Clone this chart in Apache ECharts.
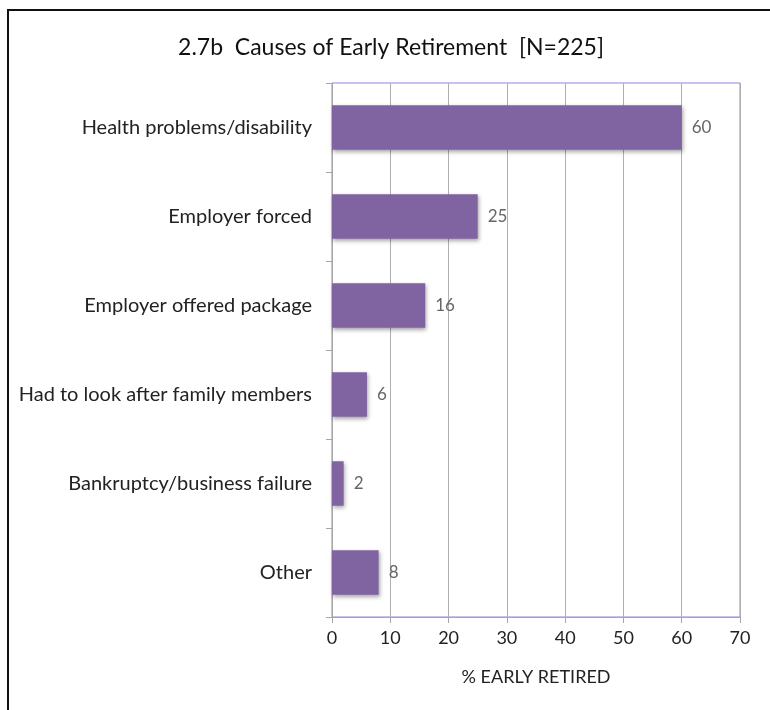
<!DOCTYPE html>
<html>
<head>
<meta charset="utf-8">
<script src="https://cdn.jsdelivr.net/npm/echarts@6/dist/echarts.min.js"></script>
<style>
  html, body { margin: 0; padding: 0; background: #fff; }
  #frame {
    position: absolute; left: 7px; top: 9px; width: 780px; height: 720px;
    border-left: 2px solid #111; border-top: 2px solid #111;
  }
  #chart { position: absolute; left: 0; top: 0; width: 770px; height: 710px; }
</style>
</head>
<body>
<div id="frame"></div>
<div id="chart"></div>
<script>
// 原因类别
const causes = [
  'Health problems/disability',
  'Employer forced',
  'Employer offered package',
  'Had to look after family members',
  'Bankruptcy/business failure',
  'Other',
];
// % early retired
const percents = [60, 25, 16, 6, 2, 8];
const xTicks = { min: 0, max: 70, interval: 10 };

const myChart = echarts.init(document.getElementById('chart'));
myChart.setOption({
  animation: false,
  textStyle: { fontFamily: 'Lato' },
  title: {
    text: '2.7b  Causes of Early Retirement  [N=225]',
    left: 386,
    textAlign: 'center',
    top: 31,
    textStyle: { fontSize: 23, fontWeight: 'normal', color: '#111', fontFamily: 'Lato' },
  },
  grid: {
    left: 332,
    right: 30,
    top: 83,
    bottom: 93,
    show: true,
    borderColor: '#8888d8',
    borderWidth: 1,
  },
  xAxis: {
    type: 'value',
    min: xTicks.min,
    max: xTicks.max,
    interval: xTicks.interval,
    name: '% EARLY RETIRED',
    nameLocation: 'middle',
    nameGap: 51,
    nameTextStyle: { fontSize: 18, color: '#222' },
    axisLine: { show: true, lineStyle: { color: '#a6a6a6' } },
    axisTick: { show: true, length: 6, lineStyle: { color: '#a6a6a6' } },
    axisLabel: { fontSize: 18, color: '#222', margin: 12 },
    splitLine: { show: true, lineStyle: { color: '#b0b0b0' } },
  },
  yAxis: {
    type: 'category',
    inverse: true,
    data: causes,
    axisLine: { show: true, lineStyle: { color: '#a6a6a6' } },
    axisTick: { show: true, length: 6, lineStyle: { color: '#a6a6a6' } },
    axisLabel: { fontSize: 20, color: '#222', margin: 20 },
  },
  series: [
    {
      type: 'bar',
      data: percents,
      barCategoryGap: '50%',
      itemStyle: {
        color: '#8064a2',
        shadowColor: 'rgba(0,0,0,0.35)',
        shadowBlur: 4,
        shadowOffsetX: 1,
        shadowOffsetY: 2,
      },
      label: {
        show: true,
        position: 'right',
        distance: 10,
        fontSize: 17,
        color: '#666',
      },
    },
  ],
});
</script>
</body>
</html>
